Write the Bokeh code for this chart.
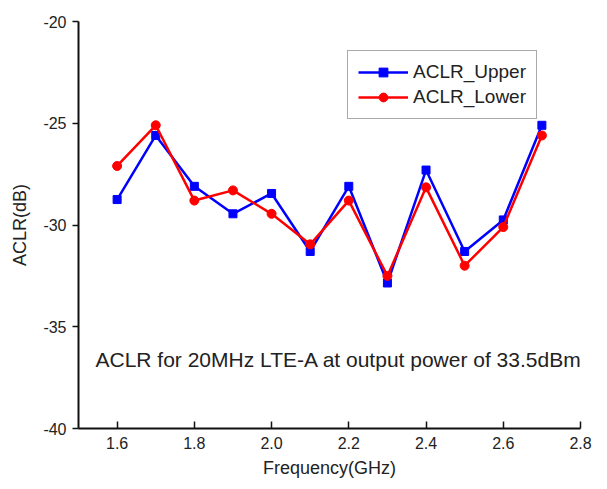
from bokeh.plotting import figure
from bokeh.models import FixedTicker, NumeralTickFormatter, Label, Range1d, Legend, LegendItem
from bokeh.embed import file_html
from bokeh.resources import INLINE

freq = [1.6, 1.7, 1.8, 1.9, 2.0, 2.1, 2.2, 2.3, 2.4, 2.5, 2.6, 2.7]
aclr_upper = [-28.75, -25.6, -28.1, -29.45, -28.45, -31.3, -28.1, -32.85, -27.3, -31.3, -29.75, -25.1]
aclr_lower = [-27.1, -25.1, -28.8, -28.3, -29.45, -30.95, -28.8, -32.5, -28.15, -32.0, -30.1, -25.6]
x_ticks = [1.6, 1.8, 2.0, 2.2, 2.4, 2.6, 2.8]
y_ticks = [-40, -35, -30, -25, -20]
annotation = "ACLR for 20MHz LTE-A at output power of 33.5dBm"

FONT = "Liberation Sans"

p = figure(width=599, height=481, output_backend="svg", toolbar_location=None,
           x_range=Range1d(1.5, 2.8), y_range=Range1d(-40, -20),
           min_border_left=78, min_border_right=19, min_border_top=21, min_border_bottom=53)
p.outline_line_color = None
p.xgrid.visible = False
p.ygrid.visible = False
p.background_fill_color = "white"
p.border_fill_color = "white"

# axes
p.xaxis.ticker = FixedTicker(ticks=x_ticks)
p.yaxis.ticker = FixedTicker(ticks=y_ticks)
p.xaxis.formatter = NumeralTickFormatter(format="0.0")
p.yaxis.formatter = NumeralTickFormatter(format="0")
for ax in (p.xaxis[0], p.yaxis[0]):
    ax.axis_line_color = "#111111"
    ax.axis_line_width = 2
    ax.major_tick_line_color = "#111111"
    ax.major_tick_line_width = 1.5
    ax.minor_tick_line_color = None
    ax.major_label_text_font = FONT
    ax.major_label_text_font_size = "16px"
    ax.major_label_text_color = "#222222"
    ax.axis_label_text_font = FONT
    ax.axis_label_text_font_size = "18px"
    ax.axis_label_text_font_style = "normal"
    ax.axis_label_text_color = "#222222"
p.xaxis.major_tick_in = 7
p.xaxis.major_tick_out = 0
p.yaxis.major_tick_in = 0
p.yaxis.major_tick_out = 6
p.xaxis.major_label_standoff = 8
p.yaxis.major_label_standoff = 6
p.xaxis.axis_label = "Frequency(GHz)"
p.yaxis.axis_label = "ACLR(dB)"
p.xaxis.axis_label_standoff = 6
p.yaxis.axis_label_standoff = 10

blue = "#0000ff"
red = "#ff0000"
l1 = p.line(freq, aclr_upper, line_color=blue, line_width=2.5)
m1 = p.scatter(freq, aclr_upper, marker="square", size=8, fill_color=blue, line_color=blue)
l2 = p.line(freq, aclr_lower, line_color=red, line_width=2.5)
m2 = p.scatter(freq, aclr_lower, marker="circle", size=9, fill_color=red, line_color=red)

legend = Legend(items=[LegendItem(label="ACLR_Upper", renderers=[l1, m1]),
                       LegendItem(label="ACLR_Lower", renderers=[l2, m2])],
                location=(269, 309))
legend.label_text_font = FONT
legend.label_text_font_size = "19px"
legend.label_text_color = "#222222"
legend.glyph_width = 50
legend.glyph_height = 22
legend.label_height = 22
legend.label_standoff = 5
legend.padding = 10
legend.spacing = 3
legend.margin = 0
legend.border_line_color = "#555555"
legend.border_line_width = 1
legend.background_fill_alpha = 0
p.add_layout(legend)

p.add_layout(Label(x=1.544, y=-36.6, text=annotation, text_font=FONT,
                   text_font_size="21px", text_color="#222222", text_baseline="middle"))

open("out.html", "w").write(file_html(p, INLINE))
